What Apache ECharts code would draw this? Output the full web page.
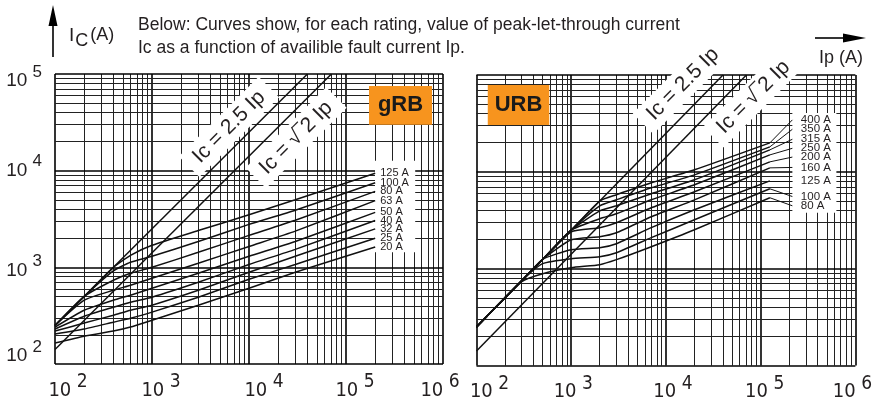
<!DOCTYPE html>
<html>
<head>
<meta charset="utf-8">
<script src="https://cdn.jsdelivr.net/npm/echarts@6/dist/echarts.min.js"></script>
<style>
html,body{margin:0;padding:0;background:#fff;}
#chart{width:875px;height:402px;}
</style>
</head>
<body>
<div id="chart"></div>
<script>
// ---------------- DATA ----------------
// gRB (left chart): prospective current Ip (A) and peak let-through Ic (A)
const gIp = [100, 200, 400, 600, 1000, 3000, 10000, 30000, 200000];
const gRatings = ['125 A', '100 A', '80 A', '63 A', '50 A', '40 A', '32 A', '25 A', '20 A'];
const gIc125 = [250, 500, 1000, 1330, 1690, 2400, 3500, 5000, 9400];
const gIc100 = [250, 500, 920, 1130, 1300, 1850, 2780, 3900, 7500];
const gIc80  = [250, 500, 735, 867, 1000, 1430, 2140, 3070, 6100];
const gIc63  = [250, 457, 579, 653, 771, 1100, 1645, 2370, 4900];
const gIc50  = [241, 360, 457, 515, 608, 867, 1300, 1850, 3700];
const gIc40  = [230, 312, 387, 436, 491, 700, 1070, 1535, 3050];
const gIc32  = [219, 265, 320, 360, 406, 579, 888, 1300, 2500];
const gIc25  = [204, 230, 271, 298, 344, 491, 752, 1070, 2000];
const gIc20  = [165, 194, 219, 241, 284, 406, 608, 888, 1620];

// URB (right chart)
const uIp = [100, 300, 500, 1000, 2000, 3000, 7000, 20000, 125000];
const uRatings = ['400 A', '350 A', '315 A', '250 A', '200 A', '160 A', '125 A', '100 A', '80 A'];
const uIc400 = [250, 750, 1250, 2500, 5000, 5795, 7700, 10490, 19900];
const uIc350 = [250, 750, 1250, 2500, 4460, 5140, 6840, 9310, 18100];
const uIc315 = [250, 750, 1250, 2500, 3960, 4460, 5930, 8270, 16860];
const uIc250 = [250, 750, 1250, 2500, 3275, 3690, 5140, 7350, 14960];
const uIc200 = [250, 750, 1250, 2405, 2650, 2980, 4255, 6220, 12680];
const uIc160 = [250, 750, 1250, 1990, 2140, 2350, 3435, 5140, 10990];
const uIc125 = [250, 750, 1250, 1570, 1645, 1810, 2650, 4055, 8070];
const uIc100 = [250, 750, 1127, 1268, 1330, 1462, 2090, 3200, 6680];
const uIc80  = [250, 735, 888, 1024, 1100, 1239, 1686, 2525, 5400];
// label column of URB: Ic value where each leader line ends
const uLabelIc = [34400, 27500, 21700, 17500, 14200, 11100, 8070, 5560, 4460];
const uLeaderIp = 216000;

// asymptotes Ic = 2.5 Ip and Ic = sqrt(2) Ip
const asym25Ip = [100, 40000];
const asym25Ic = [250, 100000];
const asymR2Ip = [100, 70710];
const asymR2Ic = [141.4, 100000];

// axis ranges and grid decades
const ipMin = 100, ipMax = 1000000;
const icMin = 100, icMax = 100000;
const gridMults = [1, 2, 3, 4, 5, 6, 7, 8, 9];
const ipDecades = [100, 1000, 10000, 100000];
const icDecades = [100, 1000, 10000];

// annotation anchors (data coords)
const gLabel25 = [6220, 28400];
const gLabelR2 = [30600, 21900];
const uLabel25 = [15100, 80800];
const uLabelR2 = [83800, 59300];
const gBox = [[199000, 1430], [517000, 12700]];
const uBox = [[216000, 3780], [630000, 40500]];
const gTag = [[172600, 29800], [771000, 75200]];
const uTag = [[131.5, 30500], [586, 78900]];

// ---------------- STYLE ----------------
const FONT = "'Liberation Sans', Arial, sans-serif";
const FONT_N = "'Liberation Sans Narrow', 'DejaVu Sans Condensed', 'Liberation Sans', sans-serif";
const TXT = '#231f20';
const ORANGE = '#F7941E';
const minorLine = {color: '#222', width: 1, type: 'solid'};
const majorLine = {color: '#000', width: 1.6, type: 'solid'};

const chart = echarts.init(document.getElementById('chart'), null, {renderer: 'canvas'});

function expOf(v) { return Math.round(Math.log10(v)); }

function gridLines() {
  const d = [];
  ipDecades.forEach(dec => gridMults.forEach(m => d.push({xAxis: dec * m, lineStyle: m === 1 ? majorLine : minorLine})));
  d.push({xAxis: ipMax, lineStyle: majorLine});
  icDecades.forEach(dec => gridMults.forEach(m => d.push({yAxis: dec * m, lineStyle: m === 1 ? majorLine : minorLine})));
  d.push({yAxis: icMax, lineStyle: majorLine});
  return d;
}

const xShiftL = {2: 13, 3: 9, 4: 15, 5: 9, 6: -3};
const xShiftR = {2: 13, 3: 2, 4: 7, 5: 4, 6: -3};
const yShift = {2: -8, 3: 3, 4: 0, 5: 7};

function pad(sh) { return sh >= 0 ? [2 * sh, 0, 0, 0] : [0, 0, -2 * sh, 0]; }

function makeXRich(shift) {
  const r = {};
  [2, 3, 4, 5, 6].forEach(e => {
    const dx = shift[e];
    r['b' + e] = {fontSize: 20, fontFamily: FONT_N, color: TXT, padding: [0, 0, 0, dx > 0 ? 2 * dx : 0]};
    r['s' + e] = {fontSize: 19, fontFamily: FONT_N, color: TXT, padding: [0, dx < 0 ? -2 * dx : 0, 16, 0]};
  });
  return r;
}
function makeYRich() {
  const r = {};
  [2, 3, 4, 5].forEach(e => {
    r['b' + e] = {fontSize: 19, fontFamily: FONT, color: TXT, padding: pad(yShift[e])};
    r['s' + e] = {fontSize: 17, fontFamily: FONT, color: TXT, padding: pad(yShift[e] - 9)};
  });
  return r;
}
const powFmt = v => { const e = expOf(v); return '{b' + e + '|10} {s' + e + '|' + e + '}'; };

function xAxis(gi, shift) {
  return {
    type: 'log', logBase: 10, gridIndex: gi, min: ipMin, max: ipMax,
    axisLine: {show: false}, axisTick: {show: false}, splitLine: {show: false},
    axisLabel: {show: true, margin: 9, formatter: powFmt, rich: makeXRich(shift), fontSize: 19, fontFamily: FONT_N, color: TXT, showMinLabel: true, showMaxLabel: true}
  };
}
function yAxis(gi, showLabels) {
  return {
    type: 'log', logBase: 10, gridIndex: gi, min: icMin, max: icMax,
    axisLine: {show: false}, axisTick: {show: false}, splitLine: {show: false},
    axisLabel: {show: showLabels, margin: 13, formatter: powFmt, rich: makeYRich(), fontSize: 19, fontFamily: FONT, color: TXT, showMinLabel: true, showMaxLabel: true}
  };
}

function zip(xs, ys) { return xs.map((x, i) => [x, ys[i]]); }

function curve(gi, xs, ys, name, withEndLabel) {
  return {
    type: 'line', name: name, xAxisIndex: gi, yAxisIndex: gi, z: 5,
    data: zip(xs, ys), showSymbol: false, symbol: 'none', silent: true,
    smooth: 0.18,
    lineStyle: {color: '#111', width: 1.5},
    endLabel: withEndLabel ? {show: true, formatter: name, distance: 5, fontSize: 11, fontFamily: FONT, color: TXT} : {show: false},
    emphasis: {disabled: true}
  };
}

const diagLabel = {
  show: true, position: 'inside', rotate: 45, formatter: '{b}',
  fontSize: 21, fontFamily: FONT, color: TXT,
  backgroundColor: '#fff', padding: [4, 10]
};

function decoSeries(gi, box, tag, tagName, l25, lr2) {
  return {
    type: 'line', xAxisIndex: gi, yAxisIndex: gi, data: [], silent: true,
    markArea: {
      z: 2, silent: true,
      data: [
        [{coord: box[0], itemStyle: {color: '#fff', opacity: 1}, label: {show: false}}, {coord: box[1]}],
        [{coord: tag[0], name: tagName, itemStyle: {color: ORANGE, opacity: 1},
          label: {show: true, position: 'inside', fontSize: 22, fontWeight: 'bold', fontFamily: FONT, color: '#1a1a1a'}},
         {coord: tag[1]}]
      ]
    },
    markPoint: {
      z: 3, silent: true, symbol: 'circle', symbolSize: 1,
      itemStyle: {color: 'rgba(0,0,0,0)'},
      label: diagLabel,
      data: [
        {name: 'Ic = 2.5 Ip', coord: l25},
        {name: 'Ic = \u221A\u203E2 Ip', coord: lr2}
      ]
    }
  };
}

const gCurves = [gIc125, gIc100, gIc80, gIc63, gIc50, gIc40, gIc32, gIc25, gIc20];
const uCurves = [uIc400, uIc350, uIc315, uIc250, uIc200, uIc160, uIc125, uIc100, uIc80];

const series = [];
[0, 1].forEach(gi => series.push({
  type: 'line', xAxisIndex: gi, yAxisIndex: gi, data: [], silent: true,
  markLine: {z: 1, silent: true, symbol: ['none', 'none'], label: {show: false}, data: gridLines()}
}));
series.push(decoSeries(0, gBox, gTag, 'gRB', gLabel25, gLabelR2));
series.push(decoSeries(1, uBox, uTag, 'URB', uLabel25, uLabelR2));
// URB label column: leaders + labels
series.push({
  type: 'line', xAxisIndex: 1, yAxisIndex: 1, data: [], silent: true, z: 5,
  markLine: {
    z: 5, silent: true, symbol: ['none', 'none'], label: {show: false},
    lineStyle: {color: '#111', width: 1, type: 'solid'},
    data: uRatings.map((r, i) => [
      {coord: [uIp[uIp.length - 1], uCurves[i][uCurves[i].length - 1]]},
      {coord: [uLeaderIp, uLabelIc[i]]}
    ])
  },
  markPoint: {
    z: 5, silent: true, symbol: 'circle', symbolSize: 1, itemStyle: {color: 'rgba(0,0,0,0)'},
    label: {show: true, position: 'right', distance: 8, formatter: '{b}', fontSize: 11.5, fontFamily: FONT, color: TXT},
    data: uRatings.map((r, i) => ({name: r, coord: [uLeaderIp, uLabelIc[i]]}))
  }
});
[0, 1].forEach(gi => {
  series.push(curve(gi, asym25Ip, asym25Ic, 'Ic = 2.5 Ip', false));
  series.push(curve(gi, asymR2Ip, asymR2Ic, 'Ic = sqrt2 Ip', false));
});
gCurves.forEach((c, i) => series.push(curve(0, gIp, c, gRatings[i], true)));
uCurves.forEach((c, i) => series.push(curve(1, uIp, c, uRatings[i], false)));

const option = {
  animation: false,
  backgroundColor: '#fff',
  grid: [
    {left: 55, top: 74, width: 388, height: 290},
    {left: 476.5, top: 75, width: 387.5, height: 291}
  ],
  xAxis: [xAxis(0, xShiftL), xAxis(1, xShiftR)],
  yAxis: [yAxis(0, true), yAxis(1, false)],
  series: series,
  graphic: [
    {type: 'text', x: 138, y: 25, silent: true, style: {text: 'Below: Curves show, for each rating, value of peak-let-through current', font: '17.5px ' + FONT, fill: TXT, verticalAlign: 'middle'}},
    {type: 'text', x: 138, y: 48, silent: true, style: {text: 'Ic as a function of availible fault current Ip.', font: '17.5px ' + FONT, fill: TXT, verticalAlign: 'middle'}},
    {type: 'text', x: 69, y: 36, silent: true, style: {
      text: '{i|I}{c|C}{a|(A)}', verticalAlign: 'middle', fill: TXT,
      rich: {
        i: {fontSize: 19, fontFamily: FONT, fill: TXT},
        c: {fontSize: 18, fontFamily: FONT, fill: TXT, padding: [11, 1, 0, 1]},
        a: {fontSize: 18, fontFamily: FONT, fill: TXT, padding: [0, 0, 2, 1]}
      }}},
    {type: 'text', x: 819, y: 58, silent: true, style: {text: 'Ip (A)', font: '18px ' + FONT, fill: TXT, verticalAlign: 'middle'}},
    {type: 'line', silent: true, shape: {x1: 53, y1: 22, x2: 53, y2: 57}, style: {stroke: '#000', lineWidth: 1.6}},
    {type: 'polygon', silent: true, shape: {points: [[53, 5], [48.5, 26], [57.5, 26]]}, style: {fill: '#000'}},
    {type: 'line', silent: true, shape: {x1: 815, y1: 38, x2: 846, y2: 38}, style: {stroke: '#000', lineWidth: 1.6}},
    {type: 'polygon', silent: true, shape: {points: [[866, 38], [843, 33.5], [843, 42.5]]}, style: {fill: '#000'}}
  ]
};
chart.setOption(option);
</script>
</body>
</html>
